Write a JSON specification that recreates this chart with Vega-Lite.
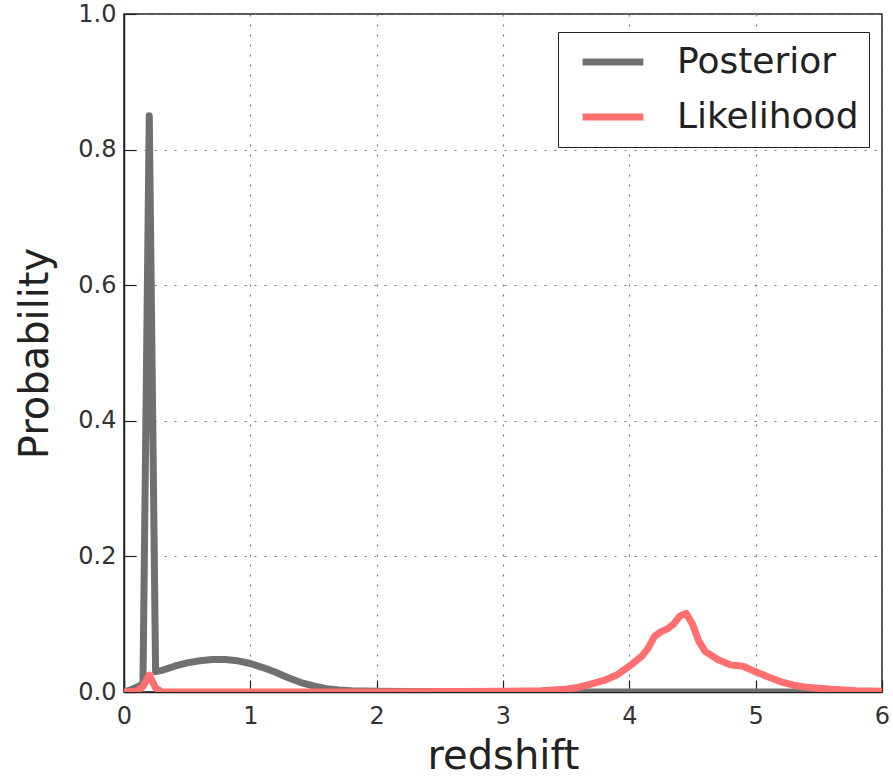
{
  "$schema": "https://vega.github.io/schema/vega-lite/v6.json",
  "width": 758,
  "height": 678,
  "autosize": {"type": "none"},
  "padding": {"left": 124, "top": 14, "right": 11, "bottom": 84},
  "background": "white",
  "config": {
    "font": "DejaVu Sans",
    "view": {"stroke": "#222", "strokeWidth": 1.5},
    "axis": {
      "labelFont": "DejaVu Sans",
      "titleFont": "DejaVu Sans",
      "labelFontSize": 24,
      "labelColor": "#333",
      "titleFontSize": 40,
      "titleFontWeight": "normal",
      "titleColor": "#222",
      "grid": true,
      "gridColor": "#777",
      "gridDash": [2, 8],
      "gridWidth": 1.2,
      "domainColor": "#222",
      "domainWidth": 1.5,
      "tickColor": "#222",
      "tickSize": -12,
      "tickWidth": 1.2
    }
  },
  "data": {
    "values": [
      {"z": 0.0, "p": 0.0, "series": "Posterior"},
      {"z": 0.05, "p": 0.003, "series": "Posterior"},
      {"z": 0.1, "p": 0.007, "series": "Posterior"},
      {"z": 0.15, "p": 0.012, "series": "Posterior"},
      {"z": 0.2, "p": 0.85, "series": "Posterior"},
      {"z": 0.25, "p": 0.03, "series": "Posterior"},
      {"z": 0.3, "p": 0.032, "series": "Posterior"},
      {"z": 0.4, "p": 0.038, "series": "Posterior"},
      {"z": 0.5, "p": 0.043, "series": "Posterior"},
      {"z": 0.6, "p": 0.046, "series": "Posterior"},
      {"z": 0.7, "p": 0.048, "series": "Posterior"},
      {"z": 0.8, "p": 0.048, "series": "Posterior"},
      {"z": 0.9, "p": 0.046, "series": "Posterior"},
      {"z": 1.0, "p": 0.042, "series": "Posterior"},
      {"z": 1.1, "p": 0.036, "series": "Posterior"},
      {"z": 1.2, "p": 0.029, "series": "Posterior"},
      {"z": 1.3, "p": 0.021, "series": "Posterior"},
      {"z": 1.4, "p": 0.014, "series": "Posterior"},
      {"z": 1.5, "p": 0.009, "series": "Posterior"},
      {"z": 1.6, "p": 0.005, "series": "Posterior"},
      {"z": 1.7, "p": 0.003, "series": "Posterior"},
      {"z": 1.8, "p": 0.002, "series": "Posterior"},
      {"z": 2.0, "p": 0.001, "series": "Posterior"},
      {"z": 2.5, "p": 0.0005, "series": "Posterior"},
      {"z": 3.0, "p": 0.0, "series": "Posterior"},
      {"z": 4.0, "p": 0.0, "series": "Posterior"},
      {"z": 5.0, "p": 0.0, "series": "Posterior"},
      {"z": 6.0, "p": 0.0, "series": "Posterior"},
      {"z": 0.0, "p": 0.0, "series": "Likelihood"},
      {"z": 0.1, "p": 0.001, "series": "Likelihood"},
      {"z": 0.15, "p": 0.008, "series": "Likelihood"},
      {"z": 0.2, "p": 0.025, "series": "Likelihood"},
      {"z": 0.25, "p": 0.006, "series": "Likelihood"},
      {"z": 0.3, "p": 0.0, "series": "Likelihood"},
      {"z": 1.0, "p": 0.0, "series": "Likelihood"},
      {"z": 2.0, "p": 0.0, "series": "Likelihood"},
      {"z": 3.0, "p": 0.001, "series": "Likelihood"},
      {"z": 3.3, "p": 0.002, "series": "Likelihood"},
      {"z": 3.5, "p": 0.004, "series": "Likelihood"},
      {"z": 3.6, "p": 0.007, "series": "Likelihood"},
      {"z": 3.7, "p": 0.012, "series": "Likelihood"},
      {"z": 3.8, "p": 0.017, "series": "Likelihood"},
      {"z": 3.9, "p": 0.025, "series": "Likelihood"},
      {"z": 4.0, "p": 0.038, "series": "Likelihood"},
      {"z": 4.1, "p": 0.053, "series": "Likelihood"},
      {"z": 4.15, "p": 0.065, "series": "Likelihood"},
      {"z": 4.2, "p": 0.082, "series": "Likelihood"},
      {"z": 4.25, "p": 0.089, "series": "Likelihood"},
      {"z": 4.3, "p": 0.093, "series": "Likelihood"},
      {"z": 4.35, "p": 0.1, "series": "Likelihood"},
      {"z": 4.4, "p": 0.112, "series": "Likelihood"},
      {"z": 4.45, "p": 0.116, "series": "Likelihood"},
      {"z": 4.5, "p": 0.1, "series": "Likelihood"},
      {"z": 4.55, "p": 0.075, "series": "Likelihood"},
      {"z": 4.6, "p": 0.06, "series": "Likelihood"},
      {"z": 4.7, "p": 0.048, "series": "Likelihood"},
      {"z": 4.8, "p": 0.04, "series": "Likelihood"},
      {"z": 4.9, "p": 0.038, "series": "Likelihood"},
      {"z": 5.0, "p": 0.03, "series": "Likelihood"},
      {"z": 5.1, "p": 0.022, "series": "Likelihood"},
      {"z": 5.2, "p": 0.015, "series": "Likelihood"},
      {"z": 5.3, "p": 0.01, "series": "Likelihood"},
      {"z": 5.4, "p": 0.007, "series": "Likelihood"},
      {"z": 5.6, "p": 0.004, "series": "Likelihood"},
      {"z": 5.8, "p": 0.002, "series": "Likelihood"},
      {"z": 6.0, "p": 0.001, "series": "Likelihood"}
    ]
  },
  "mark": {"type": "line", "strokeWidth": 7, "clip": true, "strokeJoin": "round", "strokeCap": "butt"},
  "encoding": {
    "x": {
      "field": "z",
      "type": "quantitative",
      "scale": {"domain": [0, 6], "nice": false, "zero": false},
      "axis": {"title": "redshift", "values": [0, 1, 2, 3, 4, 5, 6], "format": "d", "labelPadding": 24, "titlePadding": 8, "labelFlush": false}
    },
    "y": {
      "field": "p",
      "type": "quantitative",
      "scale": {"domain": [0, 1], "nice": false},
      "axis": {"title": "Probability", "values": [0, 0.2, 0.4, 0.6, 0.8, 1.0], "format": ".1f", "labelPadding": 20, "titlePadding": 22, "labelFlush": false}
    },
    "color": {
      "field": "series",
      "type": "nominal",
      "scale": {"domain": ["Posterior", "Likelihood"], "range": ["#707070", "#ff6f6f"]},
      "legend": {
        "title": null,
        "orient": "none",
        "legendX": 434,
        "legendY": 18,
        "symbolType": "stroke",
        "symbolSize": 3700,
        "symbolStrokeWidth": 7,
        "symbolOffset": 11,
        "clipHeight": 40,
        "labelFontSize": 36,
        "labelFont": "DejaVu Sans",
        "labelColor": "#222",
        "labelOffset": 30,
        "labelLimit": 500,
        "rowPadding": 15,
        "padding": 10,
        "strokeColor": "#222",
        "fillColor": "white",
        "cornerRadius": 0
      }
    }
  }
}
